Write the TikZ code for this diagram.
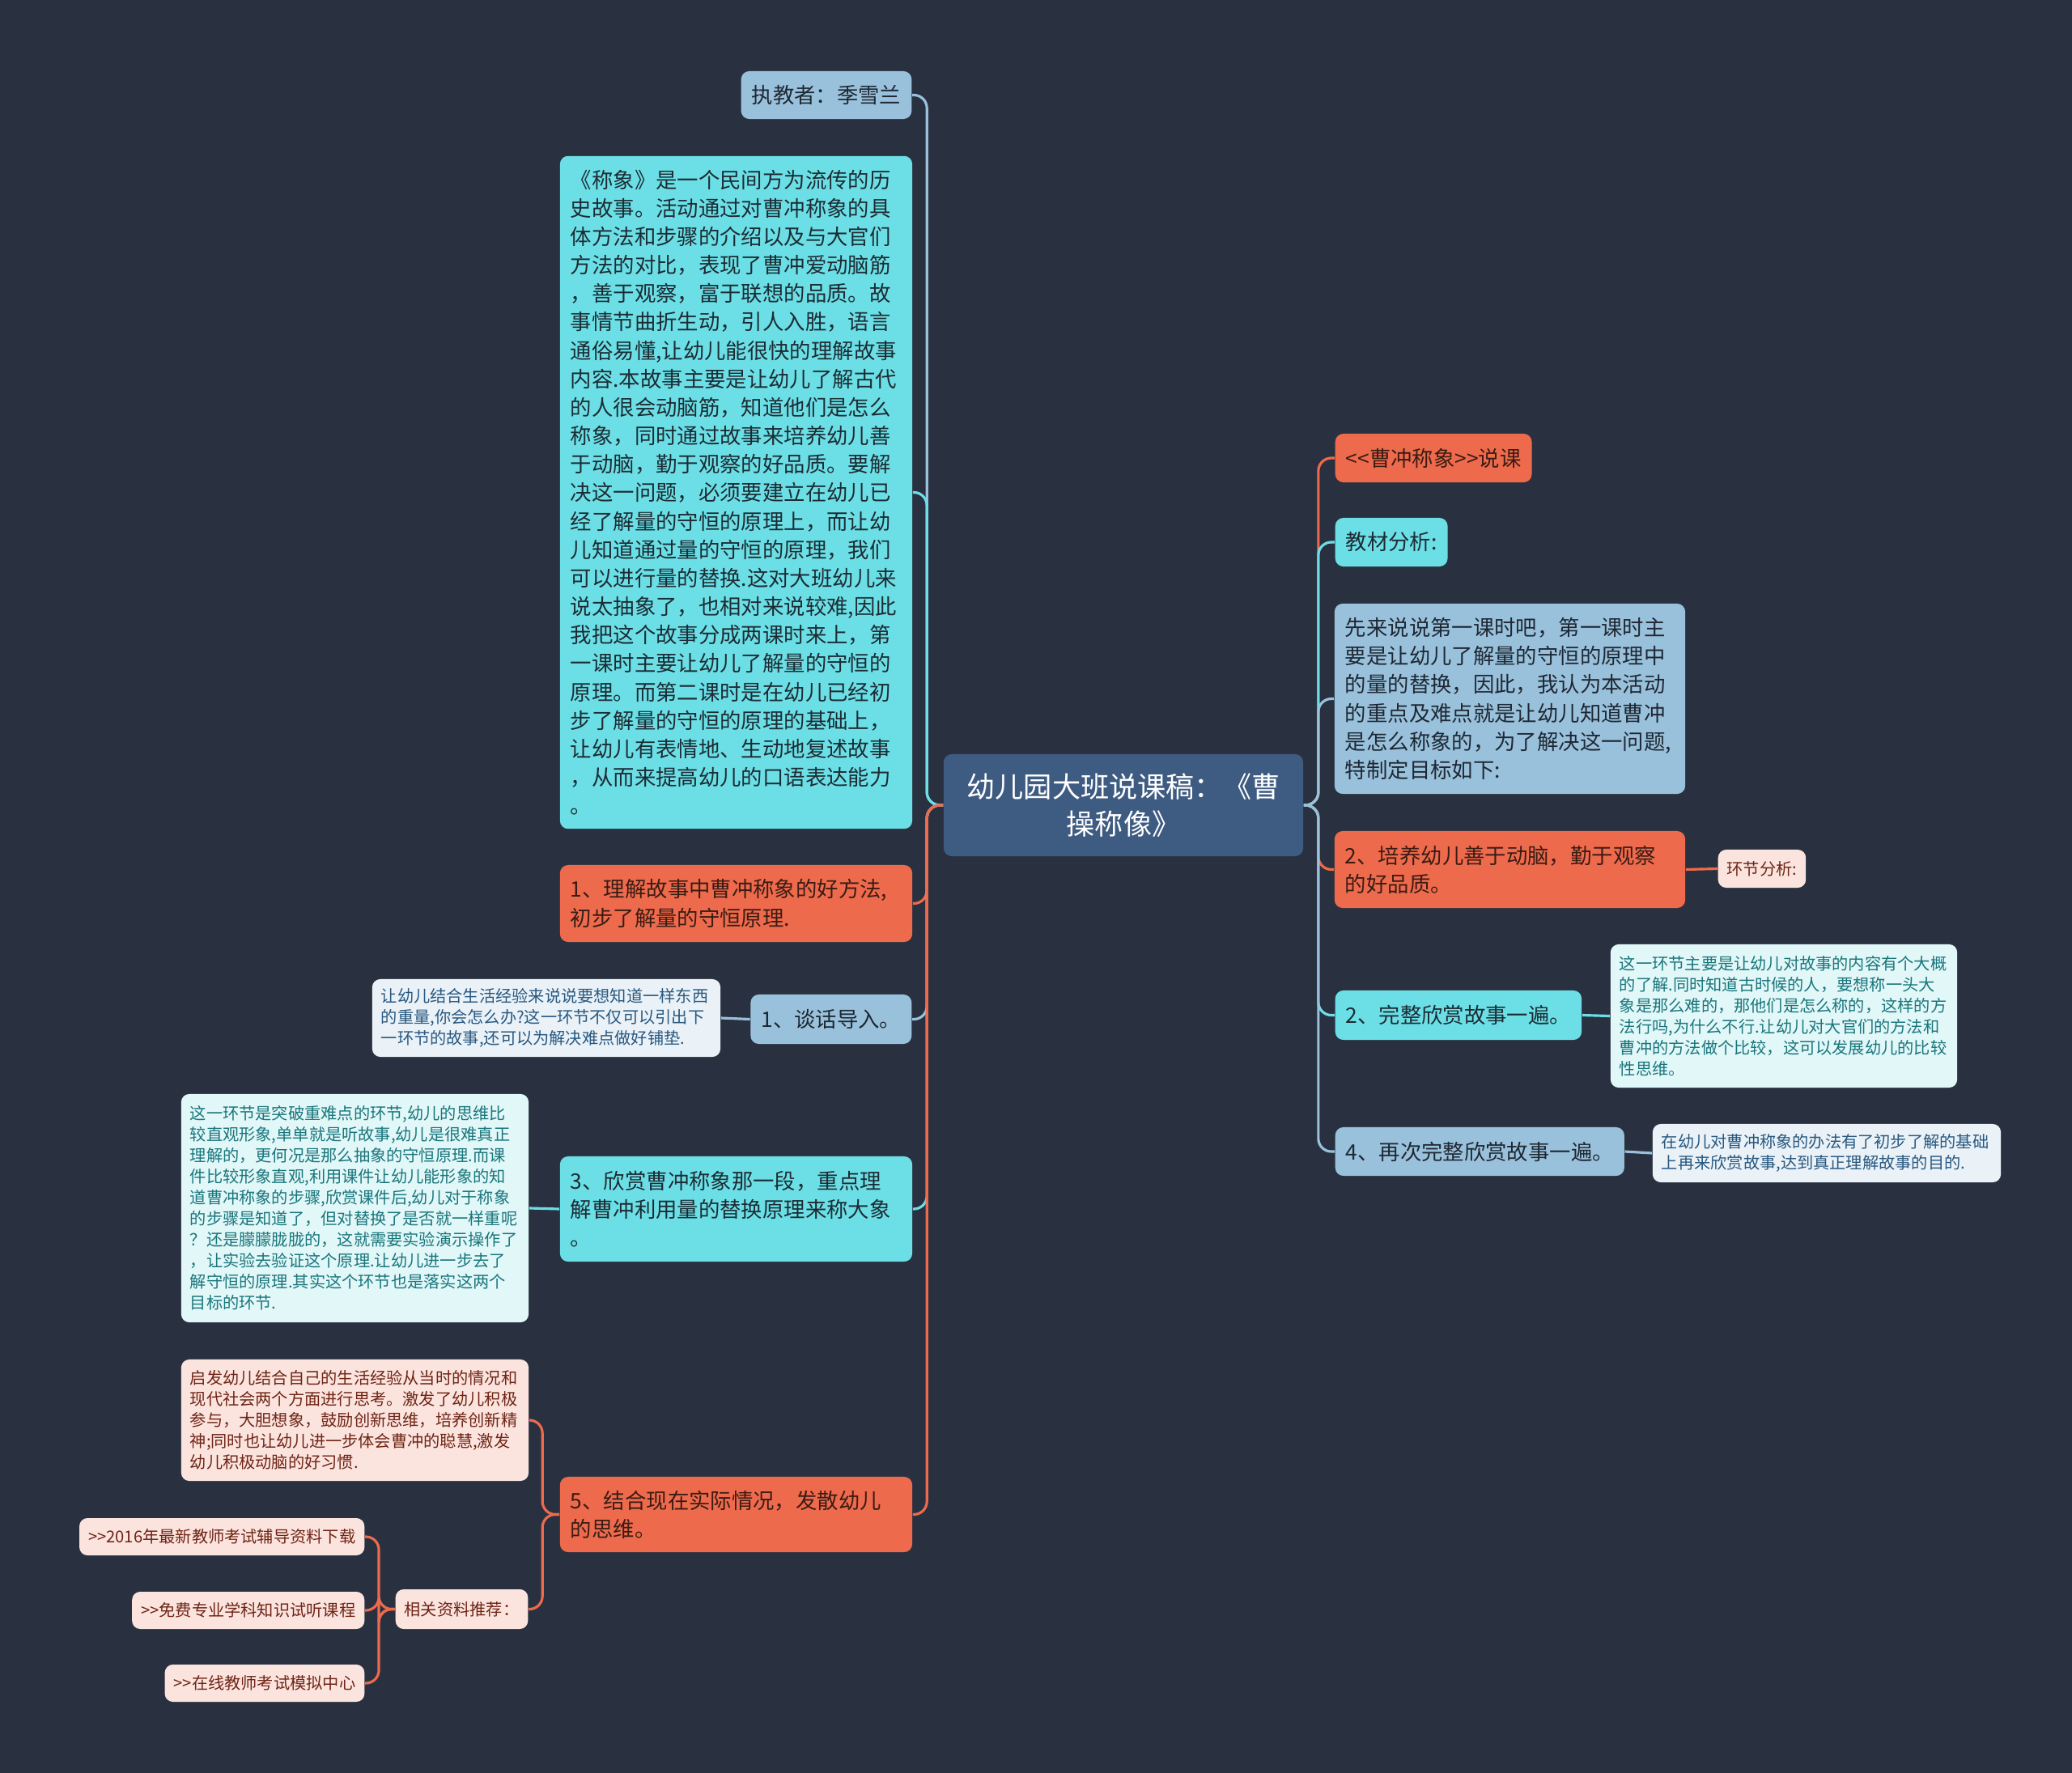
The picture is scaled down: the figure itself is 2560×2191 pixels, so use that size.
\documentclass[tikz,border=0pt]{standalone}
\usepackage{fontspec}
\newfontfamily\cjk{Noto Sans CJK SC}
\definecolor{mmnavy}{RGB}{41,49,64}
\definecolor{mmroot}{RGB}{62,91,130}
\definecolor{mmorange}{RGB}{238,106,76}
\definecolor{mmcyan}{RGB}{108,223,230}
\definecolor{mmblue}{RGB}{154,193,219}
\definecolor{mmorangetext}{RGB}{58,28,20}
\definecolor{mmcyantext}{RGB}{28,44,52}
\definecolor{mmbluetext}{RGB}{30,40,52}
\definecolor{mmcyanpale}{RGB}{225,247,248}
\definecolor{mmbluepale}{RGB}{234,242,248}
\definecolor{mmpinkpale}{RGB}{252,228,222}
\definecolor{mmcyannote}{RGB}{26,118,124}
\definecolor{mmbluenote}{RGB}{40,88,128}
\definecolor{mmpinknote}{RGB}{110,36,22}

\begin{document}
\begin{tikzpicture}[x=0.01cm, y=-0.01cm,
  mmbox/.style={rounded corners=0.1cm, inner xsep=0.13cm, inner ysep=0.1cm,
    align=left, font=\cjk\fontsize{7.5}{10}\selectfont},
  rootbox/.style={mmbox, fill=mmroot, text=white, align=center,
    font=\cjk\fontsize{10}{13}\selectfont},
  orangebox/.style={mmbox, fill=mmorange, text=mmorangetext},
  cyanbox/.style={mmbox, fill=mmcyan, text=mmcyantext},
  bluebox/.style={mmbox, fill=mmblue, text=mmbluetext},
  notebox/.style={mmbox, inner xsep=0.11cm, font=\cjk\fontsize{5.75}{7.4}\selectfont},
  cyannote/.style={notebox, fill=mmcyanpale, text=mmcyannote},
  bluenote/.style={notebox, fill=mmbluepale, text=mmbluenote},
  pinknote/.style={notebox, fill=mmpinkpale, text=mmpinknote},
  link/.style={line width=0.9pt, rounded corners=0.16cm}]

\useasboundingbox (0,0) rectangle (2560,2191);
\fill[mmnavy] (0,0) rectangle (2560,2191);

\node[rootbox, text width=4.18cm, minimum height=1.26cm] (root) at (1388,995)
  {幼儿园大班说课稿：《曹\\操称像》};

% Left branches
\node[bluebox, anchor=east, minimum height=0.59cm] (teacher) at (1127,117.5) {执教者：季雪兰};

\node[cyanbox, text width=4.09cm, minimum height=8.31cm] (story) at (909.5,608.5) {%
  《称象》是一个民间方为流传的历\\
  史故事。活动通过对曹冲称象的具\\
  体方法和步骤的介绍以及与大官们\\
  方法的对比，表现了曹冲爱动脑筋\\
  ，善于观察，富于联想的品质。故\\
  事情节曲折生动，引人入胜，语言\\
  通俗易懂,让幼儿能很快的理解故事\\
  内容.本故事主要是让幼儿了解古代\\
  的人很会动脑筋，知道他们是怎么\\
  称象，同时通过故事来培养幼儿善\\
  于动脑，勤于观察的好品质。要解\\
  决这一问题，必须要建立在幼儿已\\
  经了解量的守恒的原理上，而让幼\\
  儿知道通过量的守恒的原理，我们\\
  可以进行量的替换.这对大班幼儿来\\
  说太抽象了，也相对来说较难,因此\\
  我把这个故事分成两课时来上，第\\
  一课时主要让幼儿了解量的守恒的\\
  原理。而第二课时是在幼儿已经初\\
  步了解量的守恒的原理的基础上，\\
  让幼儿有表情地、生动地复述故事\\
  ，从而来提高幼儿的口语表达能力\\
  。};

\node[orangebox, text width=4.09cm, minimum height=0.95cm] (goal1) at (909.5,1116.5) {%
  1、理解故事中曹冲称象的好方法,\\
  初步了解量的守恒原理.};

\node[bluebox, anchor=east, minimum height=0.61cm] (talk) at (1127,1259.5) {1、谈话导入。};

\node[bluenote, text width=4.08cm, minimum height=0.96cm] (talknote) at (675,1258) {%
  让幼儿结合生活经验来说说要想知道一样东西\\
  的重量,你会怎么办?这一环节不仅可以引出下\\
  一环节的故事,还可以为解决难点做好铺垫.};

\node[cyanbox, text width=4.09cm, minimum height=1.30cm] (enjoy3) at (909.5,1494) {%
  3、欣赏曹冲称象那一段，重点理\\
  解曹冲利用量的替换原理来称大象\\
  。};

\node[cyannote, text width=4.07cm, minimum height=2.82cm] (enjoynote) at (438.5,1493) {%
  这一环节是突破重难点的环节,幼儿的思维比\\
  较直观形象,单单就是听故事,幼儿是很难真正\\
  理解的，更何况是那么抽象的守恒原理.而课\\
  件比较形象直观,利用课件让幼儿能形象的知\\
  道曹冲称象的步骤,欣赏课件后,幼儿对于称象\\
  的步骤是知道了，但对替换了是否就一样重呢\\
  ？还是朦朦胧胧的，这就需要实验演示操作了\\
  ，让实验去验证这个原理.让幼儿进一步去了\\
  解守恒的原理.其实这个环节也是落实这两个\\
  目标的环节.};

\node[orangebox, text width=4.09cm, minimum height=0.93cm] (think5) at (909.5,1871.5) {%
  5、结合现在实际情况，发散幼儿\\
  的思维。};

\node[pinknote, text width=4.07cm, minimum height=1.50cm] (thinknote) at (438.5,1755) {%
  启发幼儿结合自己的生活经验从当时的情况和\\
  现代社会两个方面进行思考。激发了幼儿积极\\
  参与，大胆想象，鼓励创新思维，培养创新精\\
  神;同时也让幼儿进一步体会曹冲的聪慧,激发\\
  幼儿积极动脑的好习惯.};

\node[pinknote, anchor=east, minimum height=0.49cm] (links) at (653,1988.5) {相关资料推荐：};
\node[pinknote, anchor=east, minimum height=0.46cm] (link1) at (451,1899) {>>2016年最新教师考试辅导资料下载};
\node[pinknote, anchor=east, minimum height=0.46cm] (link2) at (451,1990) {>>免费专业学科知识试听课程};
\node[pinknote, anchor=east, minimum height=0.46cm] (link3) at (451,2080) {>>在线教师考试模拟中心};

% Right branches
\node[orangebox, anchor=west, minimum height=0.60cm] (title) at (1649,566) {<<曹冲称象>>说课};
\node[cyanbox, anchor=west, minimum height=0.60cm] (material) at (1649,670) {教材分析:};

\node[bluebox, text width=4.07cm, minimum height=2.35cm] (lesson1) at (1865.5,863.5) {%
  先来说说第一课时吧，第一课时主\\
  要是让幼儿了解量的守恒的原理中\\
  的量的替换，因此，我认为本活动\\
  的重点及难点就是让幼儿知道曹冲\\
  是怎么称象的，为了解决这一问题,\\
  特制定目标如下:};

\node[orangebox, text width=4.07cm, minimum height=0.95cm] (goal2) at (1865.5,1074.5) {%
  2、培养幼儿善于动脑，勤于观察\\
  的好品质。};
\node[pinknote, anchor=west, minimum height=0.47cm] (stepnote) at (2122,1073.5) {环节分析:};

\node[cyanbox, anchor=west, minimum height=0.61cm] (retell) at (1649,1254.5) {2、完整欣赏故事一遍。};
\node[cyannote, text width=4.06cm, minimum height=1.77cm] (retellnote) at (2204,1255.5) {%
  这一环节主要是让幼儿对故事的内容有个大概\\
  的了解.同时知道古时候的人，要想称一头大\\
  象是那么难的，那他们是怎么称的，这样的方\\
  法行吗,为什么不行.让幼儿对大官们的方法和\\
  曹冲的方法做个比较，这可以发展幼儿的比较\\
  性思维。};

\node[bluebox, anchor=west, minimum height=0.60cm] (again) at (1649,1423) {4、再次完整欣赏故事一遍。};
\node[bluenote, text width=4.08cm, minimum height=0.72cm] (againnote) at (2257,1425) {%
  在幼儿对曹冲称象的办法有了初步了解的基础\\
  上再来欣赏故事,达到真正理解故事的目的.};

% Connecting lines, left
\draw[link, mmblue] (root.west) -- ++(-20,0) |- (teacher.east);
\draw[link, mmcyan] (root.west) -- ++(-20,0) |- (story.east);
\draw[link, mmorange] (root.west) -- ++(-20,0) |- (goal1.east);
\draw[link, mmblue] (root.west) -- ++(-20,0) |- (talk.east);
\draw[link, mmcyan] (root.west) -- ++(-20,0) |- (enjoy3.east);
\draw[link, mmorange] (root.west) -- ++(-20,0) |- (think5.east);
\draw[link, mmblue] (talk.west) -- (talknote.east);
\draw[link, mmcyan] (enjoy3.west) -- (enjoynote.east);
\draw[link, mmorange] (think5.west) -- ++(-21,0) |- (thinknote.east);
\draw[link, mmorange] (think5.west) -- ++(-21,0) |- (links.east);
\draw[link, mmorange] (links.west) -- ++(-20,0) |- (link1.east);
\draw[link, mmorange] (links.west) -- ++(-20,0) |- (link2.east);
\draw[link, mmorange] (links.west) -- ++(-20,0) |- (link3.east);

% Connecting lines, right
\draw[link, mmorange] (root.east) -- ++(18,0) |- (title.west);
\draw[link, mmcyan] (root.east) -- ++(18,0) |- (material.west);
\draw[link, mmblue] (root.east) -- ++(18,0) |- (lesson1.west);
\draw[link, mmorange] (root.east) -- ++(18,0) |- (goal2.west);
\draw[link, mmcyan] (root.east) -- ++(18,0) |- (retell.west);
\draw[link, mmblue] (root.east) -- ++(18,0) |- (again.west);
\draw[link, mmorange] (goal2.east) -- (stepnote.west);
\draw[link, mmcyan] (retell.east) -- (retellnote.west);
\draw[link, mmblue] (again.east) -- (againnote.west);

\end{tikzpicture}
\end{document}
